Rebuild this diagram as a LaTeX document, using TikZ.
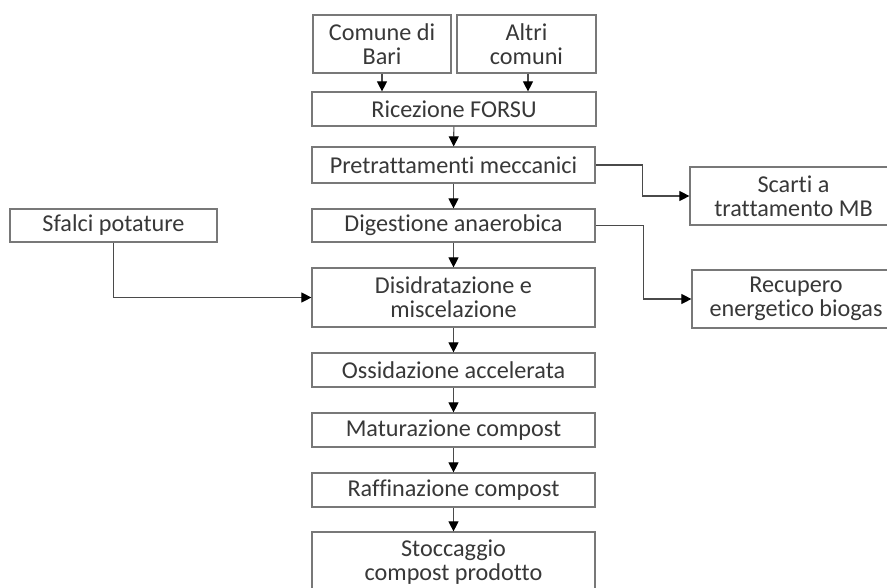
\documentclass[tikz,border=0pt]{standalone}
\usepackage{fontspec}
\setmainfont{Carlito}[Ligatures=CommonOff]
\usetikzlibrary{arrows.meta}
\definecolor{txt}{HTML}{383838}
\definecolor{edge}{HTML}{787878}
\definecolor{conn}{HTML}{4A4A4A}
\begin{document}
\begin{tikzpicture}[x=1pt,y=-1pt,
  box/.style={draw=edge, line width=1.2pt, rectangle, inner sep=0pt, align=center,
    text=txt, font=\fontsize{24.2}{24}\selectfont},
  flow/.style={draw=conn, line width=1.1pt, -{Triangle[length=10pt,width=10pt,fill=black,color=black]}}
]
\clip (0,0) rectangle (887,587);
\fill[white] (0,0) rectangle (887,587);
\node[box, minimum width=138pt, minimum height=58pt] (bari) at (382,44) {Comune di\\Bari};
\node[box, minimum width=139pt, minimum height=58pt] (altri) at (526.5,44) {Altri\\comuni};
\node[box, minimum width=284pt, minimum height=34pt] (ric) at (454,109) {Ricezione FORSU};
\node[box, minimum width=283pt, minimum height=36pt] (pre) at (453.5,165) {Pretrattamenti meccanici};
\node[box, minimum width=283pt, minimum height=33pt] (dig) at (453.5,225.5) {Digestione anaerobica};
\node[box, minimum width=283pt, minimum height=59pt] (dis) at (453.5,297.5) {Disidratazione e\\miscelazione};
\node[box, minimum width=283pt, minimum height=34pt] (oss) at (453.5,370) {Ossidazione accelerata};
\node[box, minimum width=283pt, minimum height=34pt] (mat) at (453.5,430) {Maturazione compost};
\node[box, minimum width=283pt, minimum height=34pt] (raf) at (453.5,490) {Raffinazione compost};
\node[box, minimum width=283pt, minimum height=61pt] (sto) at (453.5,562.5) {Stoccaggio\\compost prodotto};
\node[box, minimum width=207pt, minimum height=58pt] (sca) at (793.5,196) {Scarti a\\trattamento MB};
\node[box, minimum width=208pt, minimum height=58pt] (rec) at (796,299) {Recupero\\energetico biogas};
\node[box, minimum width=207pt, minimum height=33pt] (sfa) at (113.5,225.5) {Sfalci potature};
\draw[flow] (bari.south) -- (bari.south |- ric.north);
\draw[flow] ([xshift=1.5pt]altri.south) -- ([xshift=1.5pt]altri.south |- ric.north);
\draw[flow] (ric) -- (pre);
\draw[flow] (pre) -- (dig);
\draw[flow] (dig) -- (dis);
\draw[flow] (dis) -- (oss);
\draw[flow] (oss) -- (mat);
\draw[flow] (mat) -- (raf);
\draw[flow] (raf) -- (sto);
\draw[flow] (pre.east) -- ++(47,0) |- (sca.west);
\draw[flow] (dig.east) -- ++(48,0) |- (rec.west);
\draw[flow] (sfa.south) |- (dis.west);
\end{tikzpicture}
\end{document}
